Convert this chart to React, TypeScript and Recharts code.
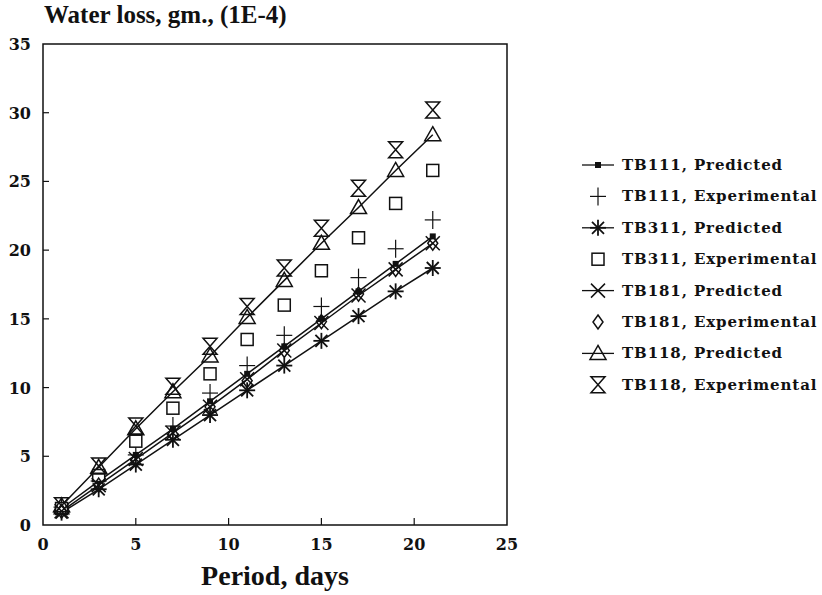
import React from "react";
import { LineChart, Line, XAxis, YAxis, ReferenceArea } from "recharts";

const days = [1, 3, 5, 7, 9, 11, 13, 15, 17, 19, 21];
const tb111Pred = [1.2, 3.2, 5.1, 7.0, 9.0, 11.0, 13.0, 15.0, 17.0, 19.0, 21.0];
const tb111Exp = [1.3, 3.2, 5.1, 7.2, 9.6, 11.6, 13.8, 15.9, 18.0, 20.1, 22.2];
const tb311Pred = [0.9, 2.6, 4.4, 6.2, 8.0, 9.8, 11.6, 13.4, 15.2, 17.0, 18.7];
const tb311Exp = [1.2, 3.6, 6.1, 8.5, 11.0, 13.5, 16.0, 18.5, 20.9, 23.4, 25.8];
const tb181Pred = [1.0, 2.9, 4.8, 6.7, 8.6, 10.6, 12.7, 14.7, 16.7, 18.6, 20.5];
const tb181Exp = [1.0, 2.9, 4.7, 6.6, 8.6, 10.5, 12.7, 14.8, 16.8, 18.6, 20.5];
const tb118Pred = [1.4, 4.2, 7.0, 9.7, 12.3, 15.1, 17.8, 20.5, 23.1, 25.8, 28.4];
const tb118Exp = [1.4, 4.3, 7.2, 10.1, 13.0, 15.9, 18.7, 21.6, 24.5, 27.3, 30.2];

const xTicks = [0, 5, 10, 15, 20, 25];
const yTicks = [0, 5, 10, 15, 20, 25, 30, 35];

const series = [
  { key: "tb111Pred", name: "TB111, Predicted", values: tb111Pred, marker: "dot", line: true },
  { key: "tb111Exp", name: "TB111, Experimental", values: tb111Exp, marker: "plus", line: false },
  { key: "tb311Pred", name: "TB311, Predicted", values: tb311Pred, marker: "star", line: true },
  { key: "tb311Exp", name: "TB311, Experimental", values: tb311Exp, marker: "square", line: false },
  { key: "tb181Pred", name: "TB181, Predicted", values: tb181Pred, marker: "x", line: true },
  { key: "tb181Exp", name: "TB181, Experimental", values: tb181Exp, marker: "diamond", line: false },
  { key: "tb118Pred", name: "TB118, Predicted", values: tb118Pred, marker: "triangle", line: true },
  { key: "tb118Exp", name: "TB118, Experimental", values: tb118Exp, marker: "hourglass", line: false },
];

const data = days.map((d, i) => {
  const row: any = { day: d };
  series.forEach((s) => (row[s.key] = s.values[i]));
  return row;
});

const INK = "#111";
const SERIF = "'DejaVu Serif', serif";

function Marker({ kind, cx, cy }: { kind: string; cx: number; cy: number }) {
  const st = { stroke: INK, strokeWidth: 1.5, fill: "none" };
  switch (kind) {
    case "dot":
      return <rect x={cx - 3} y={cy - 3} width={6} height={6} fill={INK} />;
    case "plus":
      return (
        <g {...st} strokeWidth={1.2}>
          <line x1={cx - 8} x2={cx + 8} y1={cy} y2={cy} />
          <line x1={cx} x2={cx} y1={cy - 9} y2={cy + 9} />
        </g>
      );
    case "star":
      return (
        <g {...st} strokeWidth={1.8}>
          <line x1={cx - 8} x2={cx + 8} y1={cy} y2={cy} />
          <line x1={cx} x2={cx} y1={cy - 8} y2={cy + 8} />
          <line x1={cx - 6} x2={cx + 6} y1={cy - 6} y2={cy + 6} />
          <line x1={cx - 6} x2={cx + 6} y1={cy + 6} y2={cy - 6} />
        </g>
      );
    case "square":
      return <rect x={cx - 6} y={cy - 6} width={12} height={12} {...st} fill="#fff" />;
    case "x":
      return (
        <g {...st}>
          <line x1={cx - 7} x2={cx + 7} y1={cy - 7} y2={cy + 7} />
          <line x1={cx - 7} x2={cx + 7} y1={cy + 7} y2={cy - 7} />
        </g>
      );
    case "diamond":
      return (
        <path d={`M${cx} ${cy - 7} L${cx + 5} ${cy} L${cx} ${cy + 7} L${cx - 5} ${cy} Z`} {...st} />
      );
    case "triangle":
      return (
        <path d={`M${cx} ${cy - 8} L${cx + 8} ${cy + 6} L${cx - 8} ${cy + 6} Z`} {...st} />
      );
    case "hourglass":
      return (
        <path
          d={`M${cx - 7} ${cy - 8} L${cx + 7} ${cy - 8} L${cx - 7} ${cy + 8} L${cx + 7} ${cy + 8} Z`}
          {...st}
        />
      );
    default:
      return null;
  }
}

function XTick({ x, y, payload }: any) {
  return (
    <g>
      {payload.value > 0 && payload.value < 25 && (
        <line x1={x} x2={x} y1={y} y2={y - 7} stroke={INK} strokeWidth={1.2} />
      )}
      <text x={x} y={y + 25} textAnchor="middle" fontFamily={SERIF} fontWeight="bold" fontSize={16} fill={INK}>
        {payload.value}
      </text>
    </g>
  );
}

function YTick({ x, y, payload }: any) {
  return (
    <g>
      {payload.value > 0 && payload.value < 35 && (
        <line x1={x} x2={x + 6} y1={y} y2={y} stroke={INK} strokeWidth={1.2} />
      )}
      <text x={x - 12} y={y + 6} textAnchor="end" fontFamily={SERIF} fontWeight="bold" fontSize={16} fill={INK}>
        {payload.value}
      </text>
    </g>
  );
}

function LegendBox() {
  return (
    <svg width={252} height={270} style={{ position: "absolute", left: 570, top: 148 }}>
      {series.map((s, i) => {
        const cy = 17 + i * 31.4;
        return (
          <g key={s.key}>
            {s.line && <line x1={12} x2={44} y1={cy} y2={cy} stroke={INK} strokeWidth={1.3} />}
            <Marker kind={s.marker} cx={28} cy={cy} />
            <text
              x={52}
              y={cy + 5}
              fontFamily={SERIF}
              fontWeight="bold"
              fontSize={15}
              letterSpacing={0.9}
              fill={INK}
            >
              {s.name}
            </text>
          </g>
        );
      })}
    </svg>
  );
}

export default function App() {
  return (
    <div style={{ position: "absolute", left: 0, top: 0, width: 822, height: 595, background: "#fff" }}>
      <div
        style={{
          position: "absolute",
          left: 44,
          top: 1,
          fontFamily: "'Liberation Serif', serif",
          fontWeight: "bold",
          fontSize: 25,
          color: INK,
          whiteSpace: "nowrap",
        }}
      >
        Water loss, gm., (1E-4)
      </div>
      <LineChart width={822} height={595} data={data} margin={{ top: 44, right: 315, bottom: 10, left: 8 }}>
        <XAxis
          dataKey="day"
          type="number"
          domain={[0, 25]}
          ticks={xTicks}
          tickSize={0}
          tickMargin={0}
          axisLine={false}
          tickLine={false}
          height={60}
          tick={<XTick />}
          label={{
            value: "Period, days",
            position: "insideBottom",
            offset: 0,
            style: { fontFamily: "'Liberation Serif', serif", fontWeight: "bold", fontSize: 28, fill: INK },
          }}
        />
        <YAxis
          type="number"
          domain={[0, 35]}
          ticks={yTicks}
          tickSize={0}
          tickMargin={0}
          axisLine={false}
          tickLine={false}
          width={35}
          tick={<YTick />}
        />
        <ReferenceArea x1={0} x2={25} y1={0} y2={35} fill="none" stroke={INK} strokeWidth={1.5} />
        {series.map((s) => (
          <Line
            key={s.key}
            dataKey={s.key}
            name={s.name}
            type="linear"
            stroke={s.line ? INK : "none"}
            strokeWidth={1.5}
            isAnimationActive={false}
            dot={(p: any) => <Marker key={`${s.key}-${p.index}`} kind={s.marker} cx={p.cx} cy={p.cy} />}
            activeDot={false}
          />
        ))}
      </LineChart>
      <LegendBox />
    </div>
  );
}
